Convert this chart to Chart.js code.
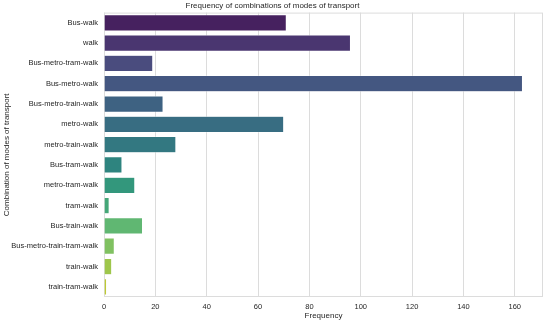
<!DOCTYPE html>
<html>
<head>
<meta charset="utf-8">
<script src="https://cdn.jsdelivr.net/npm/chart.js@4/dist/chart.umd.min.js"></script>
<style>
    html, body { margin: 0; padding: 0; background: #ffffff; }
    #wrap { width: 550px; height: 323px; }
</style>
</head>
<body>
<div id="wrap"><canvas id="modesChart" width="550" height="323"></canvas></div>
<script>
// Dados
const combinations = [
    'Bus-walk', 'walk', 'Bus-metro-tram-walk', 'Bus-metro-walk', 'Bus-metro-train-walk',
    'metro-walk', 'metro-train-walk', 'Bus-tram-walk', 'metro-tram-walk', 'tram-walk',
    'Bus-train-walk', 'Bus-metro-train-tram-walk', 'train-walk', 'train-tram-walk'
];
const frequencies = [71, 96, 19, 163, 23, 70, 28, 7, 12, 2, 15, 4, 3, 1];
const xTicks = [0, 20, 40, 60, 80, 100, 120, 140, 160];

// Paleta viridis (14 cores), dessaturada como no seaborn
const viridis = [
    '#481769', '#472c7a', '#414487', '#3a538b', '#33638d', '#2c728e', '#26828e',
    '#20928c', '#22a884', '#35b779', '#52c569', '#7ad151', '#a5db36', '#d2e21b'
];

function desaturate(hex, amount) {
    let r = parseInt(hex.slice(1, 3), 16) / 255;
    let g = parseInt(hex.slice(3, 5), 16) / 255;
    let b = parseInt(hex.slice(5, 7), 16) / 255;
    const max = Math.max(r, g, b), min = Math.min(r, g, b);
    let h = 0, s = 0;
    const l = (max + min) / 2;
    if (max !== min) {
        const d = max - min;
        s = l > 0.5 ? d / (2 - max - min) : d / (max + min);
        if (max === r) h = (g - b) / d + (g < b ? 6 : 0);
        else if (max === g) h = (b - r) / d + 2;
        else h = (r - g) / d + 4;
        h /= 6;
    }
    s *= amount;
    const hue2rgb = (p, q, t) => {
        if (t < 0) t += 1;
        if (t > 1) t -= 1;
        if (t < 1 / 6) return p + (q - p) * 6 * t;
        if (t < 1 / 2) return q;
        if (t < 2 / 3) return p + (q - p) * (2 / 3 - t) * 6;
        return p;
    };
    if (s === 0) { r = g = b = l; } else {
        const q = l < 0.5 ? l * (1 + s) : l + s - l * s;
        const p = 2 * l - q;
        r = hue2rgb(p, q, h + 1 / 3);
        g = hue2rgb(p, q, h);
        b = hue2rgb(p, q, h - 1 / 3);
    }
    return 'rgb(' + Math.round(r * 255) + ',' + Math.round(g * 255) + ',' + Math.round(b * 255) + ')';
}

const barColors = viridis.map(c => desaturate(c, 0.75));
const textColor = '#262626';
const gridColor = '#dcdcdc';
const fontFamily = '"Liberation Sans", Arial, sans-serif';

// Moldura à volta da área do gráfico
const framePlugin = {
    id: 'frame',
    beforeDatasetsDraw(chart) {
        const a = chart.chartArea;
        const ctx = chart.ctx;
        ctx.save();
        ctx.strokeStyle = gridColor;
        ctx.lineWidth = 1;
        ctx.strokeRect(a.left + 0.5, a.top + 0.5, a.right - a.left - 1, a.bottom - a.top - 1);
        ctx.restore();
    }
};

window.addEventListener('DOMContentLoaded', function() {
    const ctx = document.getElementById('modesChart');
    new Chart(ctx, {
        type: 'bar',
        data: {
            labels: combinations,
            datasets: [{
                data: frequencies,
                backgroundColor: barColors,
                borderColor: '#ffffff',
                borderWidth: 0.5,
                barPercentage: 0.8,
                categoryPercentage: 1.0
            }]
        },
        plugins: [framePlugin],
        options: {
            indexAxis: 'y',
            responsive: false,
            animation: false,
            layout: { padding: { left: 2, right: 7, top: 0, bottom: 2 } },
            plugins: {
                legend: { display: false },
                tooltip: { enabled: false },
                title: {
                    display: true,
                    text: 'Frequency of combinations of modes of transport',
                    color: textColor,
                    font: { family: fontFamily, size: 8, weight: 'normal' },
                    padding: { top: 1, bottom: 2 }
                }
            },
            scales: {
                x: {
                    min: 0,
                    max: 171,
                    afterBuildTicks(scale) {
                        scale.ticks = xTicks.map(v => ({ value: v }));
                    },
                    afterFit(scale) { scale.height = 24; },
                    grid: { color: gridColor, lineWidth: 1, drawTicks: false },
                    border: { display: false },
                    ticks: {
                        color: textColor,
                        font: { family: fontFamily, size: 7.5 },
                        padding: 5,
                        maxRotation: 0
                    },
                    title: {
                        display: true,
                        text: 'Frequency',
                        color: textColor,
                        font: { family: fontFamily, size: 8 },
                        padding: { top: 0, bottom: 0 }
                    }
                },
                y: {
                    afterFit(scale) { scale.width = 102; },
                    grid: { display: false, drawTicks: false },
                    border: { display: false },
                    ticks: {
                        color: textColor,
                        font: { family: fontFamily, size: 7.5 },
                        padding: 6,
                        autoSkip: false
                    },
                    title: {
                        display: true,
                        text: 'Combination of modes of transport',
                        color: textColor,
                        font: { family: fontFamily, size: 8 },
                        padding: { top: 0, bottom: 2 }
                    }
                }
            }
        }
    });
});
</script>
</body>
</html>
